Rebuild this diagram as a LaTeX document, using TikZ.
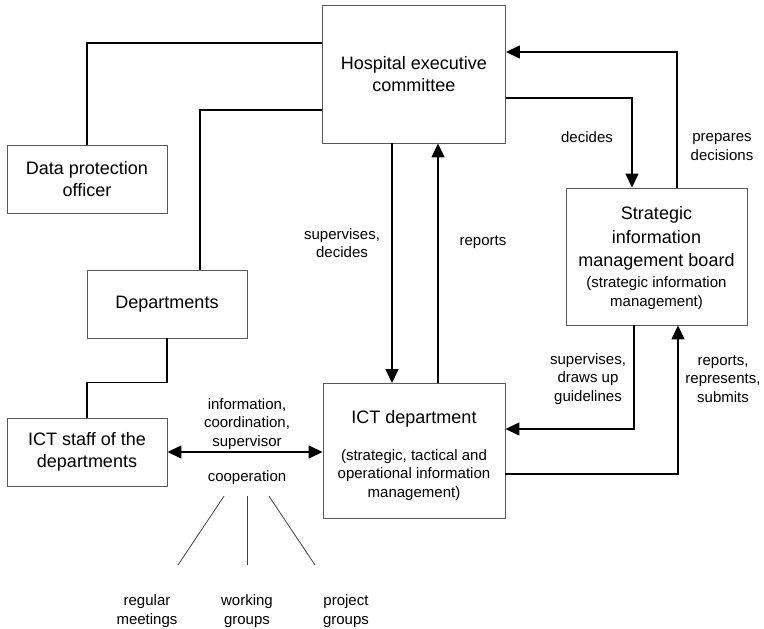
\documentclass[tikz,border=0pt]{standalone}
\usepackage{fontspec}
\setmainfont{Liberation Sans}
\usetikzlibrary{arrows.meta, positioning}
\newcommand{\boxfont}{\fontsize{18}{22}\selectfont}
\newcommand{\simfont}{\fontsize{18}{23.5}\selectfont}
\newcommand{\lblfont}{\fontsize{15}{18.5}\selectfont}

\begin{document}
\begin{tikzpicture}[x=1pt, y=-1pt,
    unit/.style={draw=black!65, line width=0.9pt, align=center, inner sep=0pt, font=\boxfont},
    lbl/.style={align=center, inner sep=0pt, font=\lblfont},
    flow/.style={line width=1.4pt, -{Triangle[length=14pt,width=13pt]}},
    link/.style={line width=1.4pt},
    thin/.style={line width=0.8pt, black!75}]
    \useasboundingbox (0,0) rectangle (764,629);
    % boxes
    \node[unit, minimum width=183pt, minimum height=138pt] (hec) at (414,74) {Hospital executive\\committee};
    \node[unit, minimum width=160pt, minimum height=68pt] (dpo) at (87,179) {Data protection\\officer};
    \node[unit, minimum width=160pt, minimum height=68pt] (dept) at (167,304) {Departments};
    \node[unit, minimum width=160pt, minimum height=68pt] (staff) at (87,452) {ICT staff of the\\departments};
    \node[unit, font=\lblfont, minimum width=182pt, minimum height=135pt] (ict) at (414,451) {{\boxfont\rule{0pt}{22pt}ICT department}\\[18pt](strategic, tactical and\\operational information\\management)};
    \node[unit, font=\simfont, minimum width=181pt, minimum height=137pt] (sim) at (656.5,256.5) {\rule{0pt}{17pt}Strategic\\information\\management board\\[-2.5pt]\lblfont (strategic information\\[-4.5pt]\lblfont management)};
    % plain links
    \draw[link] (dpo.north) |- ([yshift=31pt]hec.west);
    \draw[link] ([xshift=33pt]dept.north) |- ([yshift=-36pt]hec.west);
    \draw[link] (dept.south) -- ++(0,44) -| (staff.north);
    % arrows
    \draw[line width=1.4pt, {Triangle[length=14pt,width=13pt]}-{Triangle[length=14pt,width=13pt]}] (staff.east) -- (staff.east -| ict.west);
    \draw[flow] ([xshift=-22pt]hec.south) -- ([xshift=-22pt]ict.north);
    \draw[flow] ([xshift=24pt]ict.north) -- ([xshift=24pt]hec.south);
    \draw[flow] ([yshift=-24pt]hec.east) -| ([xshift=-24.5pt]sim.north);
    \draw[flow] ([xshift=20.5pt]sim.north) |- ([yshift=22pt]hec.east);
    \draw[flow] ([xshift=-22.5pt]sim.south) |- ([yshift=22pt]ict.east);
    \draw[flow] ([yshift=-23pt]ict.east) -| ([xshift=21.5pt]sim.south);
    % labels
    \node[lbl] (decides) at (587,137) {decides};
    \node[lbl] (prepares) at (722,147) {prepares\\decisions};
    \node[lbl] (supdec) at (342,243) {supervises,\\decides};
    \node[lbl] (reports) at (483,242) {reports};
    \node[lbl] (supguide) at (588,379) {supervises,\\draws up\\guidelines};
    \node[lbl] (repsub) at (723,379) {reports,\\represents,\\submits};
    \node[lbl] (info) at (247,424) {information,\\coordination,\\supervisor};
    \node[lbl] (coop) at (247,478) {cooperation};
    % cooperation forms
    \node[lbl] (meet) at (147,611) {regular\\meetings};
    \node[lbl] (work) at (247,611) {working\\groups};
    \node[lbl] (proj) at (346,611) {project\\groups};
    \coordinate (m1) at (178,565);
    \coordinate (m2) at (247,565);
    \coordinate (m3) at (315,565);
    \draw[thin] ([xshift=-23pt,yshift=-11pt]coop.south) -- (m1);
    \draw[thin] ([yshift=-11pt]coop.south) -- (m2);
    \draw[thin] ([xshift=22pt,yshift=-11pt]coop.south) -- (m3);
\end{tikzpicture}
\end{document}
